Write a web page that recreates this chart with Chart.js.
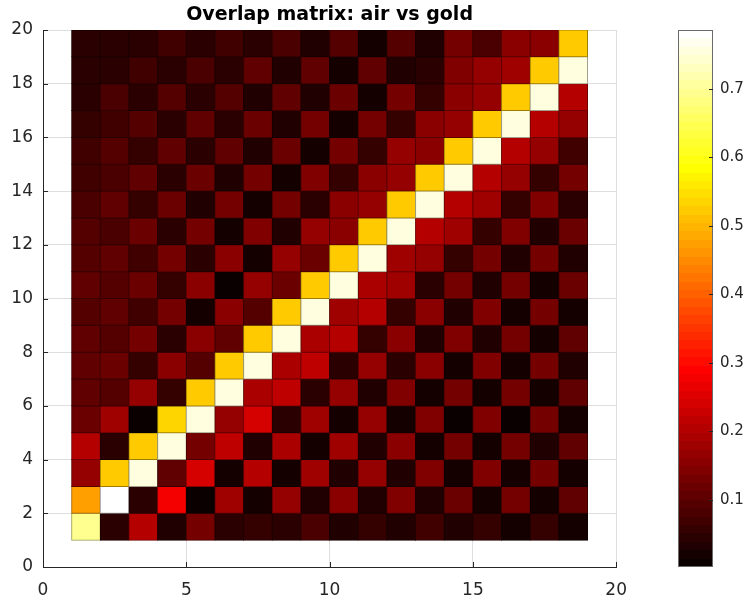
<!DOCTYPE html>
<html>
<head>
<meta charset="utf-8">
<title>Overlap matrix: air vs gold</title>
<script src="https://cdn.jsdelivr.net/npm/chart.js@4.4.1/dist/chart.umd.min.js"></script>
<style>
  html, body { margin: 0; padding: 0; background: #fff; }
  #wrap { position: relative; width: 748px; height: 604px; overflow: hidden; }
  #wrap canvas { position: absolute; top: 0; }
  #main { left: 0; }
  #cbar { left: 640px; }
</style>
</head>
<body>
<div id="wrap">
  <canvas id="main" width="640" height="604"></canvas>
  <canvas id="cbar" width="108" height="604"></canvas>
</div>
<script>
// Overlap matrix heatmap (pcolor style) with a "hot" colorbar, drawn as floating bars.

// lower-left corner of each cell column / row
const cols = [1, 2, 3, 4, 5, 6, 7, 8, 9, 10, 11, 12, 13, 14, 15, 16, 17, 18];
const rows = [1, 2, 3, 4, 5, 6, 7, 8, 9, 10, 11, 12, 13, 14, 15, 16, 17, 18, 19];

// one array per row, bottom row first
const row1  = [0.70, 0.04, 0.20, 0.03, 0.13, 0.04, 0.06, 0.04, 0.08, 0.03, 0.06, 0.03, 0.07, 0.03, 0.06, 0.02, 0.06, 0.02];
const row2  = [0.47, 0.786, 0.05, 0.28, 0.002, 0.18, 0.02, 0.17, 0.03, 0.15, 0.03, 0.14, 0.03, 0.12, 0.02, 0.13, 0.02, 0.11];
const row3  = [0.17, 0.52, 0.76, 0.10, 0.24, 0.02, 0.20, 0.02, 0.18, 0.03, 0.17, 0.03, 0.14, 0.02, 0.14, 0.02, 0.13, 0.02];
const row4  = [0.20, 0.05, 0.52, 0.76, 0.13, 0.22, 0.03, 0.19, 0.02, 0.18, 0.03, 0.15, 0.02, 0.13, 0.02, 0.13, 0.03, 0.11];
const row5  = [0.12, 0.18, 0.01, 0.53, 0.76, 0.17, 0.24, 0.04, 0.18, 0.02, 0.17, 0.02, 0.14, 0.01, 0.14, 0.01, 0.13, 0.02];
const row6  = [0.10, 0.09, 0.17, 0.06, 0.52, 0.76, 0.19, 0.22, 0.05, 0.17, 0.03, 0.14, 0.02, 0.13, 0.02, 0.13, 0.02, 0.11];
const row7  = [0.10, 0.12, 0.06, 0.15, 0.09, 0.52, 0.76, 0.19, 0.22, 0.05, 0.17, 0.04, 0.15, 0.02, 0.14, 0.02, 0.13, 0.03];
const row8  = [0.10, 0.09, 0.13, 0.04, 0.16, 0.10, 0.52, 0.76, 0.19, 0.21, 0.06, 0.15, 0.03, 0.14, 0.03, 0.13, 0.02, 0.11];
const row9  = [0.09, 0.10, 0.07, 0.13, 0.02, 0.16, 0.09, 0.52, 0.76, 0.18, 0.20, 0.06, 0.15, 0.03, 0.14, 0.02, 0.13, 0.02];
const row10 = [0.10, 0.09, 0.12, 0.06, 0.15, 0.01, 0.17, 0.12, 0.52, 0.76, 0.19, 0.18, 0.05, 0.13, 0.03, 0.13, 0.02, 0.12];
const row11 = [0.09, 0.11, 0.07, 0.13, 0.04, 0.15, 0.02, 0.17, 0.12, 0.52, 0.76, 0.18, 0.17, 0.06, 0.13, 0.03, 0.13, 0.03];
const row12 = [0.09, 0.08, 0.12, 0.05, 0.13, 0.02, 0.14, 0.03, 0.17, 0.15, 0.52, 0.76, 0.20, 0.18, 0.06, 0.14, 0.03, 0.12];
const row13 = [0.08, 0.10, 0.06, 0.12, 0.03, 0.13, 0.02, 0.13, 0.05, 0.16, 0.17, 0.52, 0.76, 0.20, 0.18, 0.06, 0.14, 0.05];
const row14 = [0.07, 0.08, 0.10, 0.05, 0.12, 0.03, 0.13, 0.02, 0.14, 0.06, 0.16, 0.17, 0.52, 0.76, 0.20, 0.17, 0.06, 0.13];
const row15 = [0.07, 0.09, 0.06, 0.10, 0.04, 0.10, 0.03, 0.12, 0.02, 0.13, 0.06, 0.17, 0.15, 0.52, 0.76, 0.20, 0.17, 0.07];
const row16 = [0.06, 0.07, 0.09, 0.05, 0.10, 0.04, 0.12, 0.03, 0.13, 0.02, 0.13, 0.06, 0.16, 0.17, 0.52, 0.76, 0.20, 0.17];
const row17 = [0.05, 0.08, 0.05, 0.09, 0.04, 0.09, 0.03, 0.11, 0.03, 0.12, 0.02, 0.13, 0.06, 0.16, 0.17, 0.52, 0.76, 0.20];
const row18 = [0.05, 0.05, 0.07, 0.05, 0.08, 0.04, 0.10, 0.03, 0.11, 0.02, 0.10, 0.03, 0.04, 0.14, 0.17, 0.18, 0.52, 0.76];
const row19 = [0.04, 0.05, 0.05, 0.07, 0.05, 0.07, 0.04, 0.08, 0.03, 0.09, 0.02, 0.09, 0.03, 0.13, 0.08, 0.15, 0.16, 0.52];
const overlap = [row1, row2, row3, row4, row5, row6, row7, row8, row9, row10,
                 row11, row12, row13, row14, row15, row16, row17, row18, row19];

const xTicks = [0, 5, 10, 15, 20];
const yTicks = [0, 2, 4, 6, 8, 10, 12, 14, 16, 18, 20];
const cbarTicks = [0.1, 0.2, 0.3, 0.4, 0.5, 0.6, 0.7];

const axisColor = '#262626';
const gridColor = '#dedede';
Chart.defaults.font.family = "'DejaVu Sans', 'Liberation Sans', sans-serif";

// color limits like MATLAB auto clim
const allVals = overlap.flat();
const cmin = Math.min(...allVals);
const cmax = Math.max(...allVals);

// MATLAB hot(64)
const NCOL = 64;
function hotRgb(i) {
    const n = Math.floor(3 / 8 * NCOL);
    const r = Math.min(1, i / n);
    const g = Math.min(1, Math.max(0, (i - n) / n));
    const b = Math.min(1, Math.max(0, (i - 2 * n) / (NCOL - 2 * n)));
    return [r * 255, g * 255, b * 255];
}
function rgbStr(c, k) {
    return 'rgb(' + c.map(x => Math.round(x * k)).join(',') + ')';
}
function hot(i) { return rgbStr(hotRgb(i), 1); }
function hotIndex(v) {
    const i = Math.floor((v - cmin) / (cmax - cmin) * NCOL) + 1;
    return Math.min(NCOL, Math.max(1, i));
}

const cells = [];
const cellColors = [];
const edgeColors = [];
rows.forEach((r, ri) => {
    cols.forEach((c, ci) => {
        const v = overlap[ri][ci];
        const rgb = hotRgb(hotIndex(v));
        cells.push({ x: c + 0.5, y: [r, r + 1], v: v });
        cellColors.push(rgbStr(rgb, 1));
        edgeColors.push(rgbStr(rgb, 0.62));   // pcolor edge lines, dark but thin
    });
});

// MATLAB style inward tick marks
const innerTicks = {
    id: 'innerTicks',
    afterDraw(chart) {
        const { ctx, chartArea: a } = chart;
        const x = chart.scales.x, y = chart.scales.y;
        ctx.save();
        ctx.strokeStyle = axisColor;
        ctx.lineWidth = 1;
        ctx.beginPath();
        xTicks.forEach(v => {
            const px = Math.round(x.getPixelForValue(v)) + 0.5;
            ctx.moveTo(px, a.bottom);
            ctx.lineTo(px, a.bottom - 5);
        });
        yTicks.forEach(v => {
            const py = Math.round(y.getPixelForValue(v)) + 0.5;
            ctx.moveTo(a.left, py);
            ctx.lineTo(a.left + 5, py);
        });
        ctx.stroke();
        ctx.restore();
    }
};

new Chart(document.getElementById('main'), {
    type: 'bar',
    data: {
        datasets: [{
            data: cells,
            backgroundColor: cellColors,
            borderColor: edgeColors,
            borderWidth: 1,
            borderSkipped: false,
            barPercentage: 1,
            categoryPercentage: 1,
            inflateAmount: 0.5
        }]
    },
    options: {
        responsive: false,
        animation: false,
        events: [],
        layout: { padding: { left: 0, right: 19, top: 0, bottom: 0 } },
        plugins: {
            legend: { display: false },
            tooltip: { enabled: false },
            title: {
                display: true,
                text: 'Overlap matrix: air vs gold',
                fullSize: false,
                color: '#000',
                font: { size: 19, weight: 'bold', lineHeight: 1.2 },
                padding: { top: 4, bottom: 3.2 }
            }
        },
        scales: {
            x: {
                type: 'linear', min: 0, max: 20, offset: false,
                grid: { color: gridColor, lineWidth: 1, drawTicks: false, offset: false },
                border: { display: true, color: axisColor, width: 1 },
                ticks: { color: axisColor, font: { size: 17 }, padding: 13 },
                afterBuildTicks: s => { s.ticks = xTicks.map(v => ({ value: v })); },
                afterFit: s => { s.height = 37; }
            },
            y: {
                type: 'linear', min: 0, max: 20,
                grid: { color: gridColor, lineWidth: 1, drawTicks: false },
                border: { display: true, color: axisColor, width: 1 },
                ticks: { color: axisColor, font: { size: 17 }, padding: 10 },
                afterBuildTicks: s => { s.ticks = yTicks.map(v => ({ value: v })); },
                afterFit: s => { s.width = 43; }
            }
        }
    },
    plugins: [innerTicks]
});

// colorbar: one floating bar from cmin to cmax painted with the hot map
function hotGradient(chart) {
    const y = chart.scales.y;
    if (!y || !chart.chartArea) return hot(NCOL / 2);
    const bot = y.getPixelForValue(cmin);
    const top = y.getPixelForValue(cmax);
    const g = chart.ctx.createLinearGradient(0, bot, 0, top);
    for (let k = 0; k < NCOL; k++) {
        g.addColorStop(k / NCOL, hot(k + 1));
        g.addColorStop((k + 1) / NCOL, hot(k + 1));
    }
    return g;
}

const cbarFrame = {
    id: 'cbarFrame',
    afterDraw(chart) {
        const { ctx, chartArea: a } = chart;
        const y = chart.scales.y;
        ctx.save();
        ctx.strokeStyle = '#6a6a6a';
        ctx.lineWidth = 1;
        ctx.strokeRect(Math.round(a.left) + 0.5, Math.round(a.top) + 0.5,
                       Math.round(a.right - a.left) - 1, Math.round(a.bottom - a.top) - 1);
        ctx.strokeStyle = axisColor;
        ctx.beginPath();
        cbarTicks.forEach(v => {
            const py = Math.round(y.getPixelForValue(v)) + 0.5;
            ctx.moveTo(a.right, py);
            ctx.lineTo(a.right - 4, py);
        });
        ctx.stroke();
        ctx.restore();
    }
};

new Chart(document.getElementById('cbar'), {
    type: 'bar',
    data: {
        labels: [''],
        datasets: [{
            data: [[cmin, cmax]],
            backgroundColor: ctx => hotGradient(ctx.chart),
            borderWidth: 0,
            barPercentage: 1,
            categoryPercentage: 1,
            inflateAmount: 0
        }]
    },
    options: {
        responsive: false,
        animation: false,
        events: [],
        layout: { padding: { left: 38, right: 0, top: 30, bottom: 37 } },
        plugins: { legend: { display: false }, tooltip: { enabled: false } },
        scales: {
            x: { display: false },
            y: {
                position: 'right', min: cmin, max: cmax,
                grid: { display: false, drawTicks: false },
                border: { display: false },
                ticks: { color: axisColor, font: { size: 15 }, padding: 7, callback: v => v.toFixed(1) },
                afterBuildTicks: s => { s.ticks = cbarTicks.map(v => ({ value: v })); },
                afterFit: s => { s.width = 35; }
            }
        }
    },
    plugins: [cbarFrame]
});
</script>
</body>
</html>
